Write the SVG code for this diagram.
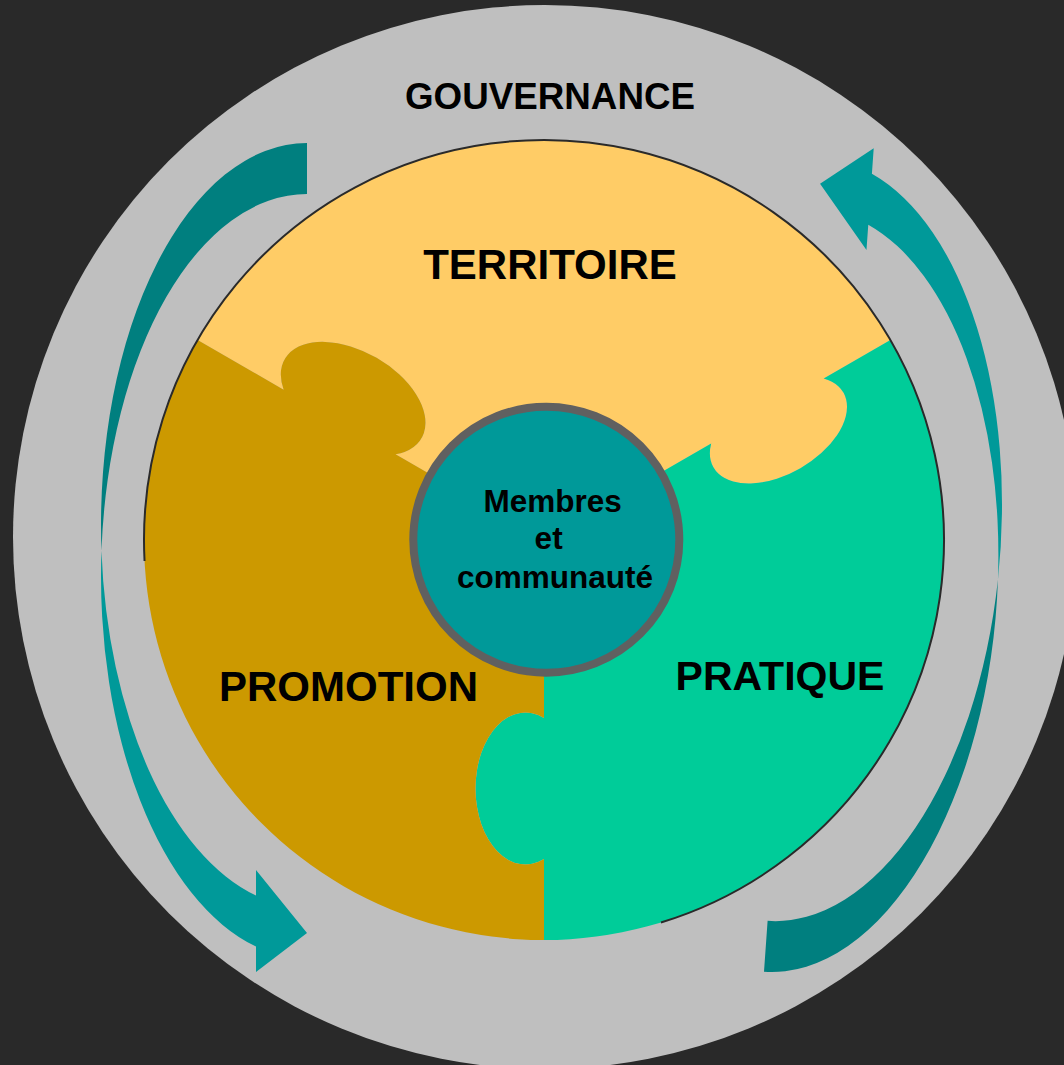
<svg xmlns="http://www.w3.org/2000/svg" xmlns:xlink="http://www.w3.org/1999/xlink" width="1064" height="1065" viewBox="0 0 1064 1065">
  <style>
    .lbl { font-family: "Liberation Sans", Arial, sans-serif; font-weight: bold; fill: #000; text-anchor: middle; }
    .arrow-back { fill: #007F7F; }
    .arrow-front { fill: #009999; }
  </style>
  <defs>
    <!-- curved arrow: darker back band (tail) crossing into the lighter front band with its head -->
    <g id="curved-arrow">
      <path class="arrow-back" d="M 307 143 A 206 382.25 0 0 0 101.46 550.75 A 206 382.25 0 0 1 307 194 Z"/>
      <path class="arrow-front" d="M 101.46 550.75 A 206 382.25 0 0 0 256 895.59 L 256 870.09 L 307 933 L 256 972.09 L 256 946.59 A 206 382.25 0 0 1 101.46 550.75 Z"/>
    </g>
  </defs>

  <rect width="1064" height="1065" fill="#292929"/>

  <!-- outer ring -->
  <g id="gouvernance">
    <circle cx="545" cy="537" r="532" fill="#BFBFBF"/>
    <text class="lbl" x="550" y="109" font-size="36.5" textLength="290" lengthAdjust="spacingAndGlyphs">GOUVERNANCE</text>
  </g>

  <!-- cycle arrows -->
  <g id="connectors">
    <use xlink:href="#curved-arrow" href="#curved-arrow"/>
    <use xlink:href="#curved-arrow" href="#curved-arrow" transform="rotate(184.07 550.22 549.24)"/>
  </g>

  <!-- puzzle pieces -->
  <g id="territoire">
    <path fill="#FFCC66" d="M 544 540 L 395.56 454.3 A 79 47 30 1 0 283.67 389.7 L 197.59 340 A 400 400 0 0 1 890.41 340 L 823.69 378.52 A 75 44 -30 1 1 711.19 443.47 Z"/>
    <text class="lbl" x="550" y="279" font-size="42">TERRITOIRE</text>
  </g>

  <g id="pratique">
    <path fill="#00CC99" d="M 544 540 L 711.19 443.47 A 75 44 -30 1 0 823.69 378.52 L 890.41 340 A 400 400 0 0 1 544 940 L 544 859.02 A 49.9 76 0 1 1 544 717.98 Z"/>
    <text class="lbl" x="780" y="690" font-size="41">PRATIQUE</text>
  </g>

  <g id="promotion">
    <path fill="#CC9900" d="M 544 540 L 544 717.98 A 49.9 76 0 1 0 544 859.02 L 544 940 A 400 400 0 0 1 197.59 340 L 283.67 389.7 A 79 47 30 1 1 395.56 454.3 Z"/>
    <text class="lbl" x="348.5" y="701" font-size="42">PROMOTION</text>
  </g>

  <!-- thin dark rim along the upper edge of the disc -->
  <g id="disc-rim">
    <path d="M 144.55 560.93 A 400 400 0 1 1 660.95 922.52" fill="none" stroke="#2A2A2A" stroke-width="2"/>
  </g>

  <!-- centre hub -->
  <g id="membres">
    <circle cx="546.3" cy="539.7" r="133" fill="#009999" stroke="#606060" stroke-width="8"/>
    <text class="lbl" font-size="31.5">
      <tspan x="557" y="512">Membres</tspan>
      <tspan x="553" y="549">et</tspan>
      <tspan x="555" y="588">communauté</tspan>
    </text>
  </g>
</svg>
